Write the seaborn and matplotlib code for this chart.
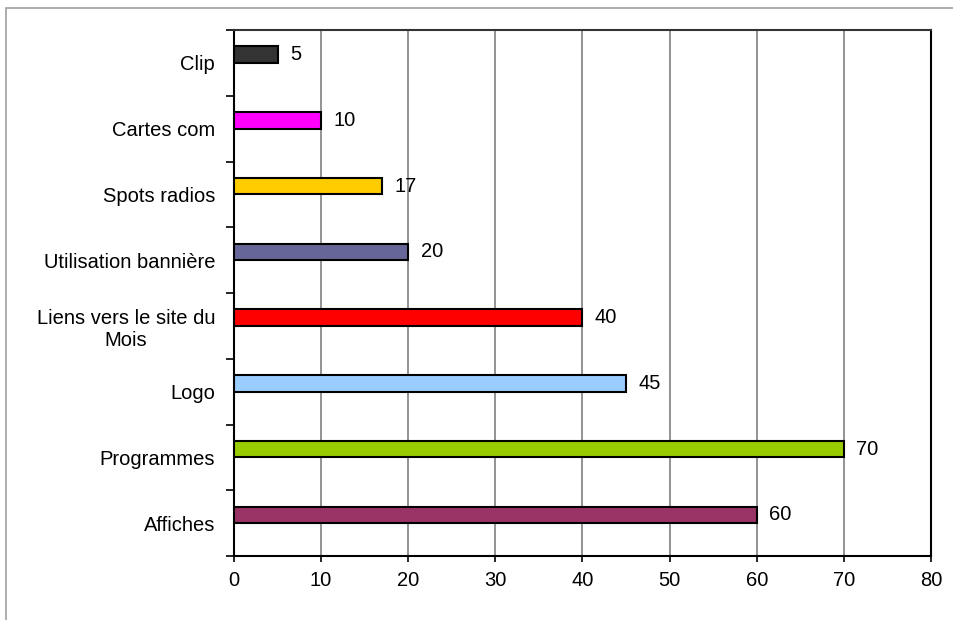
import numpy as np
import pandas as pd
import matplotlib
matplotlib.use("Agg")
import matplotlib.pyplot as plt
from matplotlib.patches import Rectangle
from matplotlib.ticker import FixedLocator
import seaborn as sns

# -----------------------------
# Data
# -----------------------------
categories = [
    "Clip",
    "Cartes com",
    "Spots radios",
    "Utilisation bannière",
    "Liens vers le site du\nMois",
    "Logo",
    "Programmes",
    "Affiches",
]
values = [5, 10, 17, 20, 40, 45, 70, 60]
bar_colors = ["#333333", "#FF00FF", "#FFCC00", "#666699",
              "#FF0000", "#99CCFF", "#99CC00", "#993366"]
x_ticks = [0, 10, 20, 30, 40, 50, 60, 70, 80]

df = pd.DataFrame({"categorie": categories, "valeur": values, "serie": "S1"})

# -----------------------------
# Plot
# -----------------------------
sns.set_style("white")
plt.rcParams["font.family"] = ["Liberation Sans", "DejaVu Sans"]
plt.rcParams["text.color"] = "black"
plt.rcParams["xtick.color"] = "black"
plt.rcParams["ytick.color"] = "black"

FS = 14.5

fig = plt.figure(figsize=(9.54, 6.2), dpi=100)
ax = fig.add_axes([234 / 954, 1 - 556 / 620, (931 - 234) / 954, (556 - 30) / 620])

# two series slots (second one empty) -> bars sit in the upper half of each slot
sns.barplot(data=df, y="categorie", x="valeur", hue="serie",
            hue_order=["S1", "S2"], dodge=True, width=0.5, gap=0,
            orient="h", edgecolor="black", linewidth=1.5,
            legend=False, ax=ax, zorder=3)

for patch, col in zip(ax.patches, bar_colors):
    patch.set_facecolor(col)

# value labels
ax.bar_label(ax.containers[0], labels=[str(v) for v in values], padding=9,
             fontsize=FS, color="black")

# axes
ax.set_xlim(0, 80)
ax.set_xticks(x_ticks)
ax.set_xticklabels([str(t) for t in x_ticks], fontsize=FS, color="black")
ax.set_ylim(len(categories) - 0.5, -0.5)
ax.set_xlabel("")
ax.set_ylabel("")
ax.tick_params(axis="y", which="major", length=0, pad=13.5, labelsize=FS,
               labelcolor="black")
ax.yaxis.set_minor_locator(FixedLocator(np.arange(-0.5, len(categories), 1.0)))
ax.tick_params(axis="y", which="minor", length=6, width=1.2, color="black", left=True)
ax.tick_params(axis="x", which="major", length=4, width=1.2, color="black",
               bottom=True, pad=7)
for lab in ax.get_yticklabels():
    lab.set_multialignment("center")

ax.xaxis.grid(True, color="#808080", linewidth=1.2, zorder=0)
ax.set_axisbelow(True)
for side, sp in ax.spines.items():
    sp.set_visible(True)
    sp.set_color("black")
    sp.set_linewidth(1.5)
ax.spines["top"].set_color("#333333")

# outer chart frame (only left and top edges visible)
fig.patches.append(Rectangle((6 / 954, -0.1), 1.2, 1 - 8 / 620 + 0.1,
                             transform=fig.transFigure, fill=False,
                             edgecolor="#a0a0a0", linewidth=1.2))

fig.savefig("out.png", dpi=100, facecolor="white")
